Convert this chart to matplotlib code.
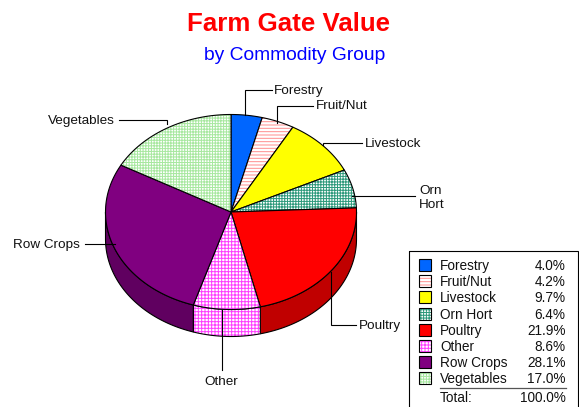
import numpy as np
import matplotlib
matplotlib.use('Agg')
import matplotlib.pyplot as plt
from matplotlib.patches import Polygon, Rectangle

plt.rcParams['font.family'] = ['Liberation Sans', 'DejaVu Sans']
plt.rcParams['hatch.linewidth'] = 0.72

# The data
groups = ['Forestry', 'Fruit/Nut', 'Livestock', 'Orn Hort', 'Poultry', 'Other', 'Row Crops', 'Vegetables']
shares = [4.0, 4.2, 9.7, 6.4, 21.9, 8.6, 28.1, 17.0]
total_label = '100.0%'

# face colour, hatch colour, hatch, darker side colour
face_colors = ['#0066ff', '#ffffff', '#ffff00', '#ffffff', '#ff0000', '#ffffff', '#800080', '#ffffff']
hatch_colors = [None, '#ff9090', None, '#2f9a7c', None, '#ff40ff', None, '#a8e8a0']
hatches = [None, '-----', None, '++++++', None, '+++++', None, '++++++']
side_colors = ['#0050c0', '#ffffff', '#c0c000', '#ffffff', '#c00000', '#ffffff', '#600060', '#ffffff']

# leader lines, label text
leaders = [
    ([245, 245, 272], [115, 90, 90]),
    ([277, 277, 313], [123, 106, 106]),
    ([323, 323, 362], [145, 143, 143]),
    ([352, 415], [196, 196]),
    ([331, 331, 356], [272, 325, 325]),
    ([222, 222], [310, 370]),
    ([115, 85], [244, 244]),
    ([167, 167, 119], [124, 120, 120]),
]
labels = [
    (274, 91, 'Forestry', 'left'),
    (316, 106, 'Fruit/Nut', 'left'),
    (365, 144, 'Livestock', 'left'),
    (419, 191, 'Orn', 'left'),
    (419, 205, 'Hort', 'left'),
    (359, 326, 'Poultry', 'left'),
    (221, 382, 'Other', 'center'),
    (80, 245, 'Row Crops', 'right'),
    (115, 121, 'Vegetables', 'right'),
]

fig = plt.figure(figsize=(5.79, 4.07), dpi=100)
ax = fig.add_axes([0, 0, 1, 1])
ax.set_xlim(0, 579)
ax.set_ylim(407, 0)
ax.axis('off')

cx, cy, rx, ry, depth = 231, 212, 125.5, 97.5, 27
lw = 0.8


def rim(a0, a1, dy=0):
    t = np.radians(np.linspace(a0, a1, 80))
    return cx + rx * np.sin(t), cy - ry * np.cos(t) + dy


def patch(xs, ys, i, side=False):
    face = side_colors[i] if side else face_colors[i]
    if hatches[i]:
        ax.add_patch(Polygon(np.c_[xs, ys], facecolor=face, edgecolor=hatch_colors[i], hatch=hatches[i], lw=0))
        ax.add_patch(Polygon(np.c_[xs, ys], fill=False, edgecolor='black', lw=lw))
    else:
        ax.add_patch(Polygon(np.c_[xs, ys], facecolor=face, edgecolor='black', lw=lw))


edges = np.cumsum([0] + shares) / sum(shares) * 360

# wall of the pie, front half only
for i in range(len(groups)):
    a0, a1 = max(edges[i], 90), min(edges[i + 1], 270)
    if a1 > a0:
        x1, y1 = rim(a0, a1)
        x2, y2 = rim(a1, a0, depth)
        patch(np.r_[x1, x2], np.r_[y1, y2], i, side=True)

# top of the pie
for i in range(len(groups)):
    xs, ys = rim(edges[i], edges[i + 1])
    patch(np.r_[cx, xs], np.r_[cy, ys], i)

for xs, ys in leaders:
    ax.plot(xs, ys, color='black', lw=lw, solid_joinstyle='miter')
for x, y, s, ha in labels:
    ax.text(x, y, s, fontsize=9.7, ha=ha, va='center', color='#111111')

ax.text(187, 31, 'Farm Gate Value', fontsize=18.6, fontweight='bold', color='#ff0000', ha='left', va='baseline')
ax.text(204, 60, 'by Commodity Group', fontsize=13.9, color='#0000ff', ha='left', va='baseline')

# legend box
ax.add_patch(Rectangle((408.5, 250.5), 169.5, 170, fill=False, edgecolor='black', lw=lw, clip_on=True))
row0, step = 266, 16.2
for i, g in enumerate(groups):
    y = row0 + i * step
    sy = y - 1
    if hatches[i]:
        ax.add_patch(Rectangle((419, sy - 6), 12, 12, facecolor=face_colors[i], edgecolor=hatch_colors[i], hatch=hatches[i], lw=0))
        ax.add_patch(Rectangle((419, sy - 6), 12, 12, fill=False, edgecolor='black', lw=lw))
    else:
        ax.add_patch(Rectangle((419, sy - 6), 12, 12, facecolor=face_colors[i], edgecolor='black', lw=lw))
    ax.text(440, y, g, fontsize=9.8, ha='left', va='center', color='#111111')
    ax.text(565.5, y, '%.1f%%' % shares[i], fontsize=9.8, ha='right', va='center', color='#111111')
ax.plot([440, 566], [387.5, 387.5], color='#555555', lw=0.9)
ax.text(440, 398, 'Total:', fontsize=9.8, ha='left', va='center', color='#111111')
ax.text(565.5, 398, total_label, fontsize=9.8, ha='right', va='center', color='#111111')

fig.savefig('out.png', dpi=100)
